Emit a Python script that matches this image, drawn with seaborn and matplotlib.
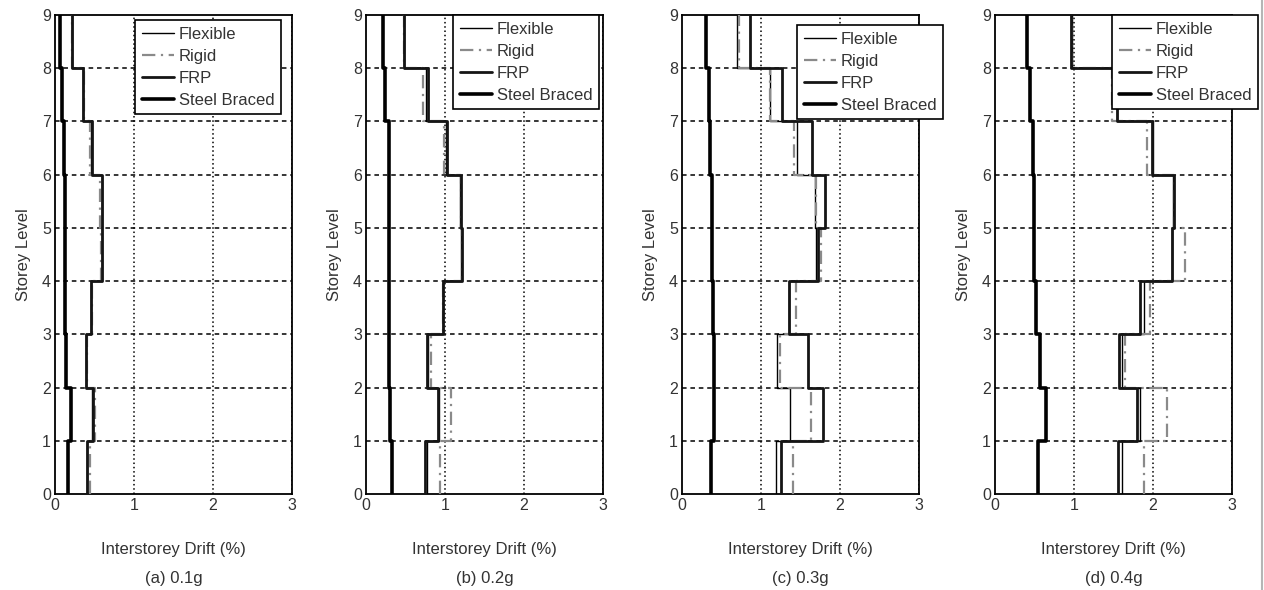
import numpy as np
import pandas as pd
import matplotlib
matplotlib.use('Agg')
import matplotlib.pyplot as plt
from matplotlib.lines import Line2D
import seaborn as sns

sns.set_theme(style='white')
plt.rcParams['font.family'] = ['Liberation Sans', 'DejaVu Sans']

# data: interstorey drift (%) for storeys 1..9
storeys = list(range(1, 10))
cases = ['Flexible', 'Rigid', 'FRP', 'Steel Braced']
captions = ['(a) 0.1g', '(b) 0.2g', '(c) 0.3g', '(d) 0.4g']

flexible_01 = [0.40, 0.47, 0.39, 0.46, 0.59, 0.59, 0.46, 0.36, 0.22]
rigid_01 = [0.44, 0.51, 0.40, 0.47, 0.58, 0.57, 0.44, 0.37, 0.22]
frp_01 = [0.41, 0.48, 0.39, 0.46, 0.60, 0.60, 0.47, 0.36, 0.22]
steel_01 = [0.16, 0.20, 0.14, 0.13, 0.13, 0.13, 0.11, 0.085, 0.06]

flexible_02 = [0.77, 0.92, 0.78, 0.97, 1.20, 1.19, 1.01, 0.76, 0.48]
rigid_02 = [0.94, 1.07, 0.82, 0.98, 1.21, 1.20, 0.99, 0.72, 0.48]
frp_02 = [0.75, 0.91, 0.77, 0.97, 1.21, 1.20, 1.02, 0.78, 0.48]
steel_02 = [0.33, 0.31, 0.29, 0.29, 0.29, 0.29, 0.29, 0.24, 0.22]

flexible_03 = [1.19, 1.37, 1.20, 1.36, 1.70, 1.68, 1.46, 1.11, 0.70]
rigid_03 = [1.40, 1.63, 1.24, 1.44, 1.76, 1.70, 1.42, 1.12, 0.72]
frp_03 = [1.25, 1.78, 1.59, 1.36, 1.72, 1.81, 1.64, 1.26, 0.86]
steel_03 = [0.37, 0.41, 0.41, 0.39, 0.38, 0.38, 0.36, 0.34, 0.31]

flexible_04 = [1.61, 1.84, 1.61, 1.89, 2.24, 2.25, 2.00, 1.54, 0.97]
rigid_04 = [1.88, 2.18, 1.65, 1.96, 2.40, 2.27, 1.93, 1.48, 0.98]
frp_04 = [1.56, 1.80, 1.57, 1.84, 2.24, 2.26, 1.99, 1.55, 0.96]
steel_04 = [0.54, 0.65, 0.57, 0.52, 0.49, 0.49, 0.48, 0.44, 0.40]

panels = [
    [flexible_01, rigid_01, frp_01, steel_01],
    [flexible_02, rigid_02, frp_02, steel_02],
    [flexible_03, rigid_03, frp_03, steel_03],
    [flexible_04, rigid_04, frp_04, steel_04],
]

# step-profile table: each storey is a vertical segment from level-1 to level
rows = []
for p, series in enumerate(panels):
    for case, vals in zip(cases, series):
        for s, v in zip(storeys, vals):
            rows.append((p, case, v, s - 1))
            rows.append((p, case, v, s))
df = pd.DataFrame(rows, columns=['panel', 'case', 'drift', 'level'])

styles = {
    'Flexible': dict(color='black', lw=1.0, ls='-'),
    'Rigid': dict(color='#8a8a8a', lw=1.6, ls=(0, (6, 2.5, 1, 2.5))),
    'FRP': dict(color='#151515', lw=2.0, ls='-'),
    'Steel Braced': dict(color='black', lw=2.6, ls='-'),
}

txt = '#333333'
fs = 12
fig = plt.figure(figsize=(12.64, 5.9), dpi=100)
W, H = 1264, 590
ax_left = [55, 366, 682, 995]
ax_w, ax_top, ax_bot = 237, 15, 494
# legend (right edge px, top px) per panel
leg_pos = [(281, 20), (599, 15), (943, 25), (1258, 15)]

for p in range(4):
    ax = fig.add_axes([ax_left[p] / W, (H - ax_bot) / H, ax_w / W, (ax_bot - ax_top) / H])
    sub = df[df.panel == p]
    for case in cases:
        st = styles[case]
        sns.lineplot(data=sub[sub.case == case], x='drift', y='level', sort=False,
                     estimator=None, color=st['color'], linewidth=st['lw'],
                     linestyle=st['ls'], ax=ax, zorder=3)
    ax.set_xlim(0, 3)
    ax.set_ylim(0, 9)
    ax.set_xticks([0, 1, 2, 3])
    ax.set_yticks(range(10))
    for y in range(1, 9):
        ax.axhline(y, color='black', lw=1.1, ls=(0, (3, 2.5)), zorder=1)
    for x in [1, 2, 3]:
        ax.axvline(x, color='black', lw=1.1, ls=(0, (1, 1.8)), zorder=1)
    for sp in ax.spines.values():
        sp.set_color('black')
        sp.set_linewidth(1.3)
    ax.tick_params(direction='in', length=3, width=0.8, colors='black',
                   labelcolor=txt, labelsize=11.5, pad=3)
    ax.set_xlabel('Interstorey Drift (%)', fontsize=fs, color=txt)
    ax.set_ylabel('Storey Level', fontsize=fs, color=txt)
    ax.xaxis.set_label_coords(0.5, -(542 - ax_bot) / (ax_bot - ax_top))
    ax.yaxis.set_label_coords(-24 / ax_w, 0.5)
    ax.text(0.5, -(578 - ax_bot) / (ax_bot - ax_top), captions[p], transform=ax.transAxes,
            ha='center', va='center', fontsize=fs, color=txt)

    handles = [Line2D([], [], color=styles[c]['color'], lw=styles[c]['lw'],
                      ls=styles[c]['ls']) for c in cases]
    rx, ty = leg_pos[p]
    leg = ax.legend(handles, cases, loc='upper right',
                    bbox_to_anchor=((rx - ax_left[p]) / ax_w, 1 - (ty - ax_top) / (ax_bot - ax_top)),
                    borderaxespad=0, fontsize=fs, frameon=True, fancybox=False,
                    handlelength=1.9, handletextpad=0.3, labelspacing=0.42,
                    borderpad=0.4, framealpha=1)
    leg.get_frame().set_edgecolor('black')
    leg.get_frame().set_linewidth(1.2)
    for t in leg.get_texts():
        t.set_color(txt)
    leg.set_zorder(5)

fig.add_artist(Line2D([1261.5 / W] * 2, [0, 1], color='#b5b5b5', lw=1.5))
fig.savefig('out.png', dpi=100)
